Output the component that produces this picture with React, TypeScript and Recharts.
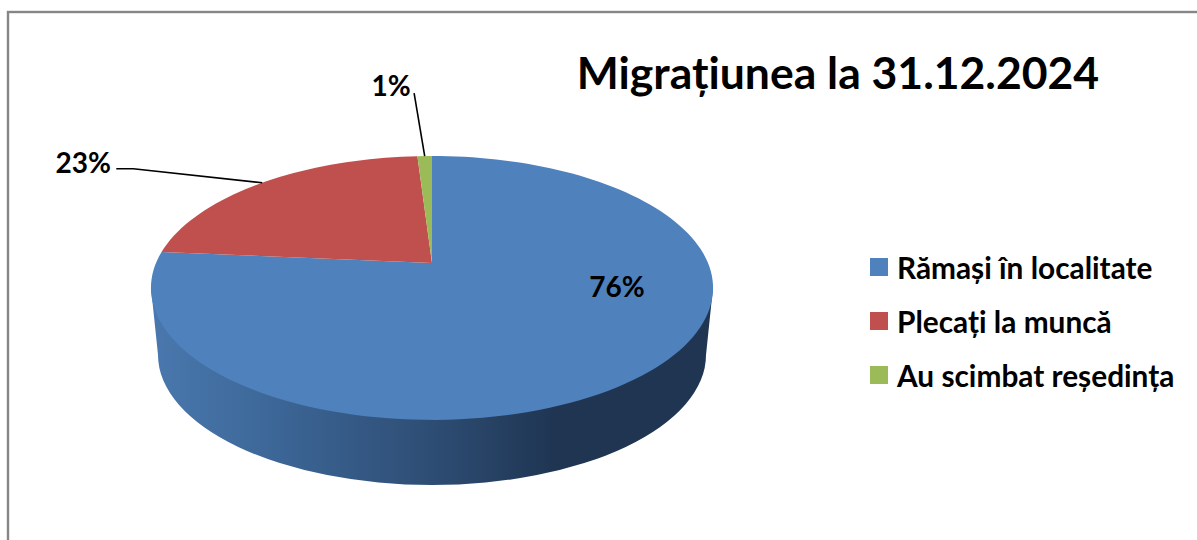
import React from "react";
import { PieChart, Pie, Legend } from "recharts";

const categories = ["Rămași în localitate", "Plecați la muncă", "Au scimbat reședința"];
const values = [76.4, 22.6, 1];
const colors = ["#4F81BD", "#C0504D", "#9BBB59"];
const titleText = "Migrațiunea la 31.12.2024";
const FONT = "Lato, Carlito, 'Open Sans', sans-serif";

const W = 1197;
const H = 540;
const CX = 432;
const CY = 263;
const RADIUS = 276;
const SQUASH = 0.461;
const PERSPECTIVE = 0.189;
const RIM = { cy: 355, rx: 274, ry: 130 };

const rows = categories.map((name, i) => ({ name, value: values[i], fill: colors[i] }));

function project(cx: number, cy: number, r: number, deg: number) {
  const a = (deg * Math.PI) / 180;
  const u = Math.cos(a);
  const v = Math.sin(a);
  const d = 1 + PERSPECTIVE * v;
  return { x: cx + (r * u) / d, y: cy - (r * SQUASH * v) / d };
}

function Slice(props: any) {
  const { cx, cy, outerRadius, startAngle, endAngle, fill, index } = props;
  const steps = Math.max(2, Math.ceil(Math.abs(endAngle - startAngle) / 2));
  const pts: string[] = [`${cx},${cy}`];
  for (let i = 0; i <= steps; i++) {
    const p = project(cx, cy, outerRadius, startAngle + ((endAngle - startAngle) * i) / steps);
    pts.push(`${p.x},${p.y}`);
  }
  const wall =
    index === 0
      ? `M${cx - outerRadius * 1.018},${CY + 25} L${cx - RIM.rx},${RIM.cy} A${RIM.rx},${RIM.ry} 0 0 0 ${cx + RIM.rx},${RIM.cy} L${cx + outerRadius * 1.018},${CY + 25} Z`
      : null;
  return (
    <g>
      {wall && <path d={wall} fill="url(#wallShade)" />}
      <polygon points={pts.join(" ")} fill={fill} />
    </g>
  );
}

const labelPlacement = [
  { dx: -31.6, dy: -86, line: null },
  { dx: -179, dy: -21, line: [[-129, -14], [-146, -14]] },
  { dx: -33.5, dy: -71, line: [[-10.6, -63]] },
];

function SliceLabel(props: any) {
  const { cx, cy, outerRadius, midAngle, index, value } = props;
  const edge = project(cx, cy, outerRadius, midAngle);
  const place = labelPlacement[index];
  const linePts = place.line
    ? [[edge.x, edge.y], ...place.line.map(([dx, dy]: number[]) => [edge.x + dx, edge.y + dy])]
    : null;
  return (
    <g>
      {linePts && (
        <polyline points={linePts.map((p) => p.join(",")).join(" ")} fill="none" stroke="#000" strokeWidth={1.6} />
      )}
      <text
        x={edge.x + place.dx}
        y={edge.y + place.dy}
        textAnchor="middle"
        dominantBaseline="central"
        fontFamily={FONT}
        fontWeight={700}
        fontSize={28}
        fill="#000"
      >
        {Math.round(value)}%
      </text>
    </g>
  );
}

function LegendList(props: any) {
  const items = props.payload || [];
  return (
    <div style={{ fontFamily: FONT, fontWeight: 700, fontSize: 29.8, color: "#000" }}>
      {items.map((it: any) => (
        <div key={it.value} style={{ display: "flex", alignItems: "center", height: 54, whiteSpace: "nowrap" }}>
          <span style={{ width: 18, height: 18, background: it.color, marginRight: 9, flex: "none" }} />
          <span>{it.value}</span>
        </div>
      ))}
    </div>
  );
}

export default function App() {
  return (
    <div style={{ position: "absolute", left: 0, top: 0, width: W, height: H, background: "#fff" }}>
      <PieChart width={W} height={H} margin={{ top: 0, right: 0, bottom: 0, left: 0 }}>
        <defs>
          <linearGradient id="wallShade" gradientUnits="userSpaceOnUse" x1={151} y1={0} x2={713} y2={0}>
            <stop offset="0" stopColor="#4A78AE" />
            <stop offset="0.2" stopColor="#3D6899" />
            <stop offset="0.5" stopColor="#2E4D74" />
            <stop offset="0.72" stopColor="#1F3552" />
            <stop offset="1" stopColor="#1F3552" />
          </linearGradient>
        </defs>
        <rect x={8} y={12} width={W + 40} height={H + 40} fill="#fff" stroke="#868686" strokeWidth={2.4} />
        <text x={838} y={71.5} textAnchor="middle" dominantBaseline="central" fontFamily={FONT} fontWeight={700} fontSize={44.5} fill="#000">
          {titleText}
        </text>
        <Pie
          data={rows}
          dataKey="value"
          nameKey="name"
          cx={CX}
          cy={CY}
          innerRadius={0}
          outerRadius={RADIUS}
          startAngle={90}
          endAngle={-270}
          paddingAngle={0}
          stroke="none"
          isAnimationActive={false}
          shape={Slice}
          label={SliceLabel}
          labelLine={false}
        />
        <Legend
          layout="vertical"
          content={LegendList}
          itemSorter={null}
          wrapperStyle={{ position: "absolute", left: 870, top: 240, width: 327, height: "auto" }}
        />
      </PieChart>
    </div>
  );
}
